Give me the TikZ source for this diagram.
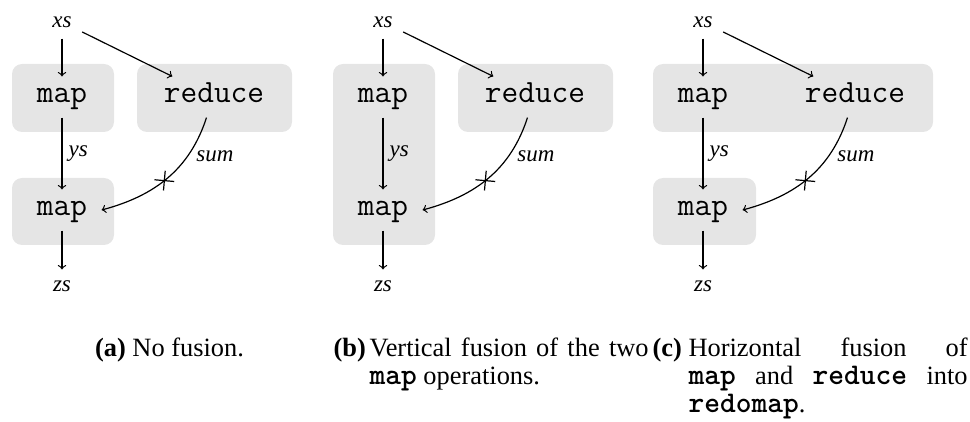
\documentclass[tikz,border=0pt]{standalone}
\usepackage{fontspec}
\setmainfont{Liberation Serif}
\usetikzlibrary{shapes.misc}
\newcommand\opname[1]{{\fontsize{15}{14}\selectfont\ttfamily\bfseries #1}}
\tikzstyle{grp}=[fill=black!10,rounded corners=5pt]
\tikzstyle{op}=[font=\fontsize{16.2}{18}\selectfont\ttfamily,inner xsep=7pt,inner ysep=0pt,text height=13pt,text depth=7pt]
\tikzstyle{vname}=[font=\fontsize{11.5}{13}\selectfont\itshape,inner sep=5pt,text height=6pt,text depth=0pt]
\tikzstyle{lbl}=[font=\fontsize{11.5}{13}\selectfont\itshape,inner sep=3pt]
\tikzstyle{cut}=[cross out,draw,inner sep=0pt,minimum size=6.4pt,rotate=40]
\tikzstyle{subcap}=[font=\fontsize{13.2}{14}\selectfont,inner sep=0pt,anchor=north west]

\begin{document}
\begin{tikzpicture}[x=0.5pt,y=-0.5pt,line width=0.6pt]
\useasboundingbox (0,0) rectangle (970,422);
% grey groups: (a) none, (b) vertical, (c) horizontal
\foreach \xa/\ya/\xb/\yb in {12/64/114/132, 137/64/292/132, 12/178/114/245,
    333/64/435/245, 458/64/613/132,
    653/64/933/132, 653/178/756/245}
    \fill[grp] (\xa,\ya) rectangle (\xb,\yb);
% the same graph three times
\foreach \o/\p in {0/a, 321/b, 641/c} {
    \node[vname,anchor=base] (xs\p) at (\o+62,28) {xs};
    \node[op,anchor=base] (mapa\p) at (\o+62,103) {map};
    \node[op,anchor=base] (reduce\p) at (\o+214,103) {reduce};
    \node[op,anchor=base] (mapb\p) at (\o+62,216) {map};
    \node[vname,anchor=base] (zs\p) at (\o+62,292) {zs};
    \node[lbl] (sum\p) at (\o+215,156) {sum};
    \draw[->] (xs\p) -- (mapa\p);
    \draw[->] (xs\p) -- (reduce\p);
    \draw[->] (mapa\p) -- node[lbl,right] (ys\p) {ys} (mapb\p);
    \draw[->] (reduce\p.250) to[out=-108,in=15] node[cut,pos=.53] (cut\p) {} (mapb\p.east);
    \draw[->] (mapb\p) -- (zs\p);
}
% captions
\node[subcap,anchor=north] (capa) at (169.5,337)
    {\textbf{(a)} No fusion.};
\node[subcap] (capb) at (333,337)
    {\makebox[18pt][l]{\textbf{(b)}}\parbox[t]{139.5pt}{Vertical fusion of the two \opname{map} operations.}};
\node[subcap] (capc) at (652,337)
    {\makebox[18pt][l]{\textbf{(c)}}\parbox[t]{139.5pt}{Horizontal fusion of\linebreak \opname{map} and \opname{reduce} into \opname{redomap}.}};
\end{tikzpicture}
\end{document}
